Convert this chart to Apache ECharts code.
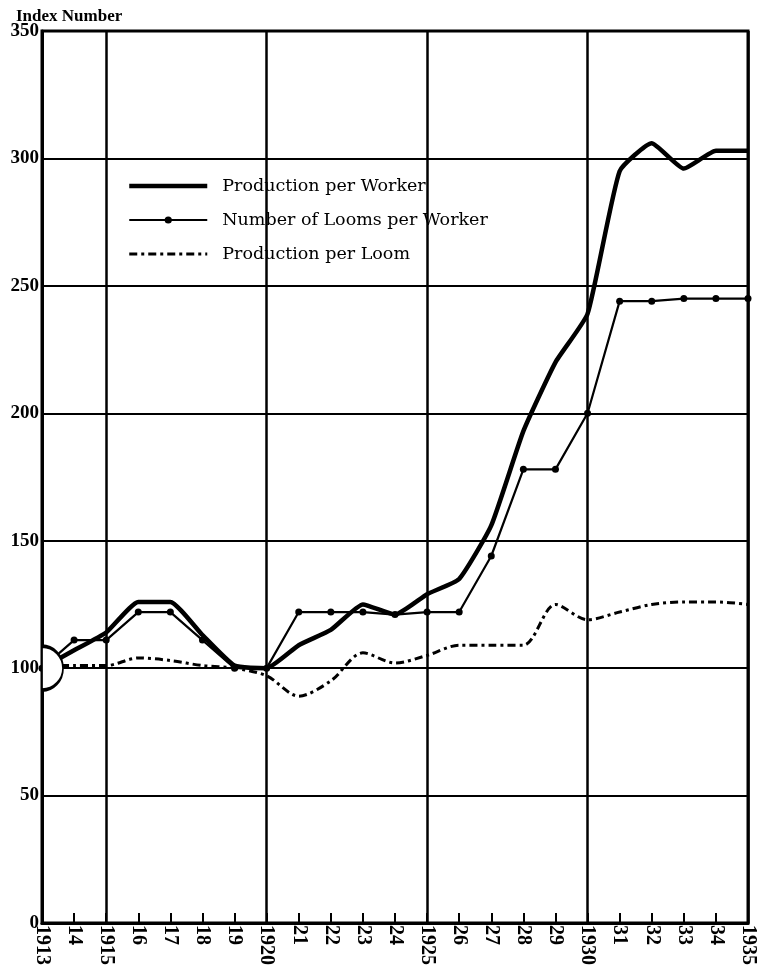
<!DOCTYPE html>
<html>
<head>
<meta charset="utf-8">
<script src="https://cdn.jsdelivr.net/npm/echarts@6/dist/echarts.min.js"></script>
<style>
	html, body { margin: 0; padding: 0; background: #fff; }
	#lineChart { width: 760px; height: 977px; }
</style>
</head>
<body>
<div id="lineChart"></div>
<script>
var years = ['1913', '1914', '1915', '1916', '1917', '1918', '1919', '1920', '1921', '1922', '1923', '1924',
	'1925', '1926', '1927', '1928', '1929', '1930', '1931', '1932', '1933', '1934', '1935'];
var yearLabels = ['1913', '14', '1915', '16', '17', '18', '19', '1920', '21', '22', '23', '24',
	'1925', '26', '27', '28', '29', '1930', '31', '32', '33', '34', '1935'];
var prodPerWorker = [100, 107, 114, 126, 126, 113, 101, 100, 109, 115, 125, 121, 129, 135, 156, 193, 220, 239, 295, 306, 296, 303, 303];
var loomsPerWorker = [100, 111, 111, 122, 122, 111, 100, 100, 122, 122, 122, 121, 122, 122, 144, 178, 178, 200, 244, 244, 245, 245, 245];
var prodPerLoom = [101, 101, 101, 104, 103, 101, 100, 97, 89, 95, 106, 102, 105, 109, 109, 109, 125, 119, 122, 125, 126, 126, 125];
var baseMark = [[0, 100]];

var serif = 'Liberation Serif';
var dashDot = [8, 4, 3, 4];

var option = {
	animation: false,
	title: {
		text: 'Index Number',
		left: 11,
		top: 3,
		textStyle: { fontFamily: serif, fontSize: 17, fontWeight: 'bold', color: '#000' }
	},
	legend: {
		orient: 'vertical',
		left: 122,
		top: 172,
		itemWidth: 78,
		itemHeight: 9,
		itemGap: 16,
		data: [
			{ name: 'Production per Worker', itemStyle: { opacity: 0 }, lineStyle: { color: '#000', width: 4.5 } },
			{ name: 'Number of Looms per Worker', lineStyle: { color: '#000', width: 2.2 } },
			{ name: 'Production per Loom', itemStyle: { opacity: 0 }, lineStyle: { color: '#000', width: 3, type: dashDot } }
		],
		textStyle: { fontFamily: 'DejaVu Serif', fontSize: 17.5, color: '#000', padding: [0, 0, 0, 10] }
	},
	grid: {
		left: 42,
		right: 12,
		top: 31,
		bottom: 54,
		show: true,
		borderColor: '#000',
		borderWidth: 3
	},
	xAxis: {
		type: 'category',
		data: years,
		boundaryGap: false,
		axisLine: { lineStyle: { color: '#000', width: 3 } },
		axisTick: { inside: true, length: 10, interval: 0, lineStyle: { color: '#000', width: 2 } },
		axisLabel: {
			interval: 0,
			rotate: -90,
			margin: 2,
			fontFamily: serif,
			fontSize: 20,
			fontWeight: 'bold',
			color: '#000',
			formatter: function(v, i) { return yearLabels[i]; }
		},
		splitLine: {
			show: true,
			interval: function(i) { return i % 5 === 2; },
			lineStyle: { color: '#000', width: 2.5 }
		}
	},
	yAxis: {
		type: 'value',
		min: 0,
		max: 350,
		interval: 50,
		axisLine: { show: true, lineStyle: { color: '#000', width: 3 } },
		axisTick: { show: false },
		axisLabel: { margin: 3, fontFamily: serif, fontSize: 19, fontWeight: 'bold', color: '#000' },
		splitLine: { lineStyle: { color: '#000', width: 2 } }
	},
	series: [{
		name: 'Production per Worker',
		type: 'line',
		data: prodPerWorker,
		showSymbol: false,
		symbol: 'none',
		smooth: 0.15,
		lineStyle: { color: '#000', width: 4.5 },
		itemStyle: { color: '#000' }
	}, {
		name: 'Number of Looms per Worker',
		type: 'line',
		data: loomsPerWorker,
		symbol: 'circle',
		symbolSize: 7,
		lineStyle: { color: '#000', width: 2.2 },
		itemStyle: { color: '#000' }
	}, {
		name: 'Production per Loom',
		type: 'line',
		data: prodPerLoom,
		symbol: 'none',
		smooth: 0.3,
		lineStyle: { color: '#000', width: 3, type: dashDot },
		itemStyle: { color: '#000' }
	}, {
		// half circle on the base year
		type: 'scatter',
		data: baseMark,
		symbol: 'path://M0,0 A20,20 0 0 1 0,40 Z',
		symbolSize: [21, 44],
		symbolOffset: [10.5, 0],
		z: 5,
		silent: true,
		itemStyle: { color: '#fff', opacity: 1, borderColor: '#000', borderWidth: 2.5 }
	}]
};
var lineChart = echarts.init(document.getElementById('lineChart'));
lineChart.setOption(option);
</script>
</body>
</html>
